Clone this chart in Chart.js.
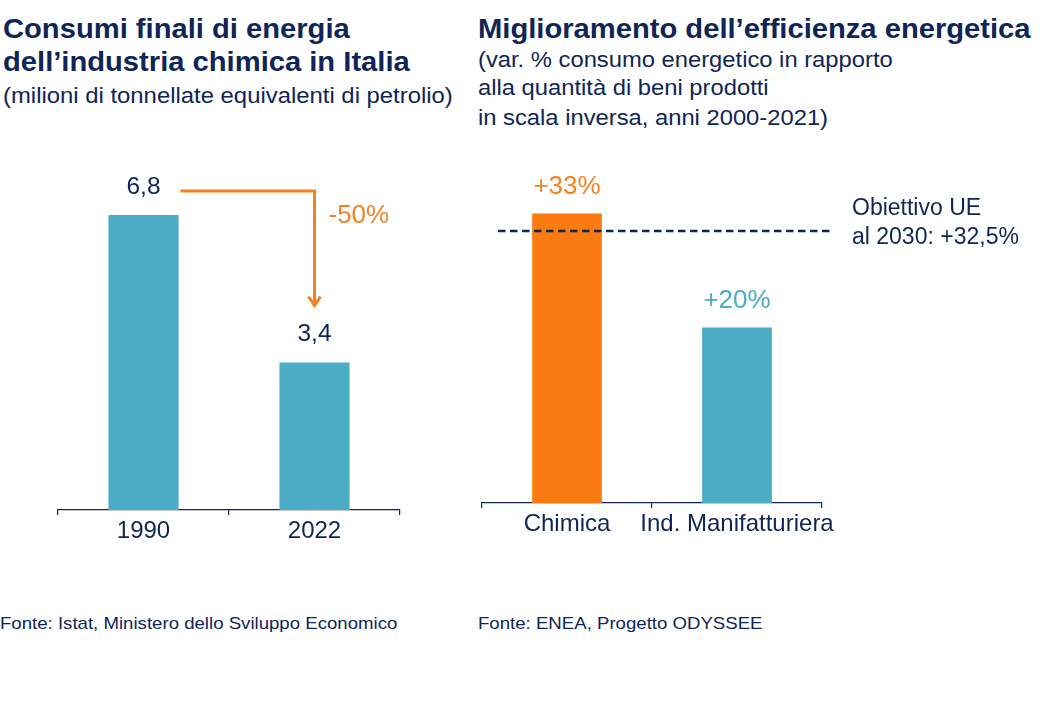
<!DOCTYPE html>
<html>
<head>
<meta charset="utf-8">
<script src="https://cdn.jsdelivr.net/npm/chart.js@4/dist/chart.umd.min.js"></script>
<style>
  html, body { margin: 0; padding: 0; background: #ffffff; }
  body { width: 1040px; height: 720px; position: relative; overflow: hidden; font-family: "Liberation Sans", Arial, sans-serif; color: #0f2557; }
  .t { position: absolute; white-space: nowrap; transform-origin: 0 0; }
  .title { font-weight: bold; font-size: 27px; line-height: 34px; transform: scaleX(1.08); }
  .sub { font-size: 22px; line-height: 30px; transform: scaleX(1.085); }
  .sub2 { font-size: 22px; line-height: 28px; transform: scaleX(1.08); }
  .note { font-size: 17px; line-height: 22px; transform: scaleX(1.095); }
  canvas { position: absolute; }
</style>
</head>
<body>
<div class="t title" style="left:3px; top:12px;">Consumi finali di energia</div>
<div class="t title" style="left:3px; top:45px;">dell’industria chimica in Italia</div>
<div class="t sub" style="left:3px; top:81px;">(milioni di tonnellate equivalenti di petrolio)</div>

<div class="t title" style="left:478px; top:12px;">Miglioramento dell’efficienza energetica</div>
<div class="t sub2" style="left:478px; top:46px;">(var. % consumo energetico in rapporto</div>
<div class="t sub2" style="left:478px; top:74px;">alla quantità di beni prodotti</div>
<div class="t sub2" style="left:478px; top:104px;">in scala inversa, anni 2000-2021)</div>

<div class="t note" style="left:0px; top:613px;">Fonte: Istat, Ministero dello Sviluppo Economico</div>
<div class="t note" style="left:478px; top:613px;">Fonte: ENEA, Progetto ODYSSEE</div>

<canvas id="left" style="left:0px; top:140px;" width="460" height="420"></canvas>
<canvas id="right" style="left:470px; top:140px;" width="570" height="420"></canvas>

<script>
// ---- data ----
const leftCategories = ['1990', '2022'];
const leftValues = [6.8, 3.4];
const leftValueLabels = ['6,8', '3,4'];
const leftChangeLabel = '-50%';

const rightCategories = ['Chimica', 'Ind. Manifatturiera'];
const rightValues = [33, 20];
const rightValueLabels = ['+33%', '+20%'];
const targetLineValue = 31;           // position of the dashed line
const targetLabelLines = ['Obiettivo UE', 'al 2030: +32,5%'];

// ---- styles ----
const NAVY = '#0f2557';
const TEAL = '#4BACC6';
const ORANGE_BAR = '#F97B11';
const ORANGE = '#F5821F';
const FONT = '"Liberation Sans", Arial, sans-serif';

Chart.defaults.font.family = FONT;
Chart.defaults.animation = false;

const valueLabelPlugin = {
  id: 'valueLabels',
  afterDatasetsDraw(chart, args, opts) {
    const ctx = chart.ctx;
    const meta = chart.getDatasetMeta(0);
    ctx.save();
    ctx.font = opts.font;
    ctx.textAlign = 'center';
    ctx.textBaseline = 'middle';
    meta.data.forEach((bar, i) => {
      ctx.fillStyle = opts.colors[i];
      ctx.fillText(opts.labels[i], bar.x, bar.y - opts.offset);
    });
    ctx.restore();
  }
};

const arrowPlugin = {
  id: 'changeArrow',
  afterDatasetsDraw(chart) {
    if (chart.canvas.id !== 'left') return;
    const ctx = chart.ctx;
    const meta = chart.getDatasetMeta(0);
    const b0 = meta.data[0], b1 = meta.data[1];
    const y0 = b0.y - 24;
    const x0 = b0.x + 37;
    const x1 = b1.x;
    const yTip = b1.y - 57;
    ctx.save();
    ctx.strokeStyle = ORANGE;
    ctx.lineWidth = 3;
    ctx.lineJoin = 'miter';
    ctx.beginPath();
    ctx.moveTo(x0, y0);
    ctx.lineTo(x1, y0);
    ctx.lineTo(x1, yTip);
    ctx.stroke();
    ctx.beginPath();
    ctx.moveTo(x1 - 6, yTip - 9);
    ctx.lineTo(x1, yTip);
    ctx.lineTo(x1 + 6, yTip - 9);
    ctx.stroke();
    ctx.fillStyle = ORANGE;
    ctx.font = '26px ' + FONT;
    ctx.textAlign = 'left';
    ctx.textBaseline = 'middle';
    ctx.fillText(leftChangeLabel, x1 + 14, y0 + 25);
    ctx.restore();
  }
};

const targetPlugin = {
  id: 'targetLine',
  afterDatasetsDraw(chart) {
    if (chart.canvas.id !== 'right') return;
    const ctx = chart.ctx;
    const a = chart.chartArea;
    const y = chart.scales.y.getPixelForValue(targetLineValue);
    ctx.save();
    ctx.strokeStyle = NAVY;
    ctx.lineWidth = 2.5;
    ctx.setLineDash([7.5, 4.5]);
    ctx.beginPath();
    ctx.moveTo(a.left + 16, y);
    ctx.lineTo(a.right + 11, y);
    ctx.stroke();
    ctx.setLineDash([]);
    ctx.fillStyle = NAVY;
    ctx.font = '23px ' + FONT;
    ctx.textAlign = 'left';
    ctx.textBaseline = 'middle';
    ctx.fillText(targetLabelLines[0], a.right + 30, y - 22);
    ctx.fillText(targetLabelLines[1], a.right + 30, y + 7);
    ctx.restore();
  }
};

function makeChart(id, cats, vals, colors, yMax, padding, labelOpts) {
  return new Chart(document.getElementById(id), {
    type: 'bar',
    data: {
      labels: cats,
      datasets: [{
        data: vals,
        backgroundColor: colors,
        borderWidth: 0,
        barPercentage: 0.41,
        categoryPercentage: 1.0
      }]
    },
    options: {
      responsive: false,
      maintainAspectRatio: false,
      animation: false,
      layout: { padding: padding },
      plugins: {
        legend: { display: false },
        tooltip: { enabled: false },
        title: { display: false },
        valueLabels: labelOpts
      },
      scales: {
        x: {
          grid: { display: true, drawOnChartArea: false, drawTicks: true, tickLength: 5, color: NAVY, lineWidth: 1.2, offset: true },
          border: { display: true, color: NAVY, width: 1.3 },
          ticks: { color: NAVY, font: { size: 24, family: FONT }, padding: 2, maxRotation: 0, autoSkip: false },
          afterFit: (axis) => { axis.height = 40; }
        },
        y: {
          display: false,
          min: 0,
          max: yMax
        }
      }
    },
    plugins: [valueLabelPlugin, arrowPlugin, targetPlugin]
  });
}

makeChart('left', leftCategories, leftValues, [TEAL, TEAL], 8,
  { left: 58, right: 60, top: 23, bottom: 10 },
  { labels: leftValueLabels, colors: [NAVY, NAVY], font: '24.5px ' + FONT, offset: 28 });

makeChart('right', rightCategories, rightValues, [ORANGE_BAR, TEAL], 40,
  { left: 12, right: 218, top: 12, bottom: 17 },
  { labels: rightValueLabels, colors: [ORANGE, TEAL], font: '26px ' + FONT, offset: 27 });
</script>
</body>
</html>
